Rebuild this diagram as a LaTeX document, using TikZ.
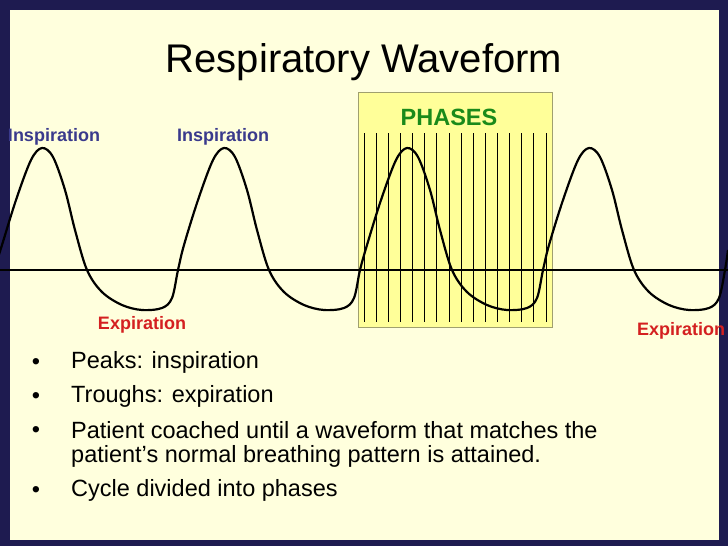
\documentclass[tikz,border=0pt]{standalone}
\usepackage{fontspec}
\setmainfont{Liberation Sans}
\definecolor{navy}{HTML}{1E1B50}
\definecolor{bg}{HTML}{FFFFDD}
\definecolor{ph}{HTML}{FFFF99}
\definecolor{insp}{HTML}{3A3A8C}
\definecolor{expc}{HTML}{D42020}
\definecolor{grn}{HTML}{1A8A1A}
\begin{document}
\begin{tikzpicture}[x=1pt,y=-1pt,
  lab/.style={font=\bfseries\fontsize{18}{20}\selectfont},
  bul/.style={font=\fontsize{23.5}{27}\selectfont,anchor=west,inner sep=0},
  dot/.style={font=\fontsize{23.5}{27}\selectfont,inner sep=0}]
\useasboundingbox (0,0) rectangle (728,546);
\fill[navy] (0,0) rectangle (728,546);
\fill[bg] (10,10) rectangle (719,540);
\node[font=\fontsize{40}{44}\selectfont] (title) at (364,62) {Respiratory Waveform};
\node[draw={rgb,255:red,160;green,160;blue,110},fill=ph,minimum width=194,minimum height=235,inner sep=0] (box) at (455,209.5) {};
\foreach \i in {0,...,15}{\draw[line width=0.8pt] (364+\i*12.13,133) -- (364+\i*12.13,322);}
\node[font=\bfseries\fontsize{23.5}{26}\selectfont,text=grn] (ph) at (449,117) {PHASES};
\draw[line width=2pt] (0,270) -- (728,270);
\gdef\pts{(-6,270)}
\foreach \c in {-4,178,361,543}{
  \xdef\pts{\pts (\c+6,245) (\c+20,200) (\c+35,160) (\c+46,148) (\c+57,157) (\c+69,190) (\c+79,230) (\c+91,270)
  (\c+106,292) (\c+126,305) (\c+146,310) (\c+166,308) (\c+176,298) (\c+182,270)}}
\edef\wave{\noexpand\draw[line width=2.2pt,line join=round] plot[smooth,tension=0.55] coordinates {\pts (728,250)};}
\wave
\node[lab,text=insp] (i1) at (54,137) {Inspiration};
\node[lab,text=insp] (i2) at (223,137) {Inspiration};
\node[lab,text=expc] (e1) at (142,325) {Expiration};
\node[lab,text=expc] (e2) at (681,331) {Expiration};
\node[dot] (d1) at (36,364) {•};
\node[dot] (d2) at (36,398) {•};
\node[dot] (d3) at (36,432) {•};
\node[dot] (d4) at (36,492) {•};
\node[bul] (b1) at (71,362) {Peaks: inspiration};
\node[bul] (b2) at (71,396) {Troughs: expiration};
\node[bul] (b3) at (71,430) {Patient coached until a waveform that matches the};
\node[bul] (b4) at (71,456) {patient’s normal breathing pattern is attained.};
\node[bul] (b5) at (71,490) {Cycle divided into phases};
\end{tikzpicture}
\end{document}
